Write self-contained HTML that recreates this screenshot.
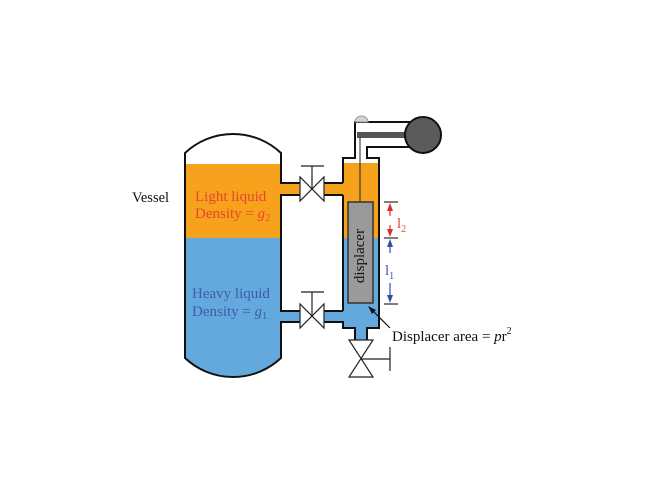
<!DOCTYPE html>
<html>
<head>
<meta charset="utf-8">
<style>
  html, body { margin:0; padding:0; background:#fff; }
  body { width:660px; height:495px; overflow:hidden; }
  svg { display:block; }
  text { font-family: "Liberation Serif", "Times New Roman", serif; }
</style>
</head>
<body>
<svg width="660" height="495" viewBox="0 0 660 495" xmlns="http://www.w3.org/2000/svg">
  <defs>
    <clipPath id="vclip">
      <path d="M185,153 A70,70 0 0 1 281,153 L281,358 A70,70 0 0 1 185,358 Z"/>
    </clipPath>
  </defs>

  <!-- Vessel fills -->
  <g clip-path="url(#vclip)">
    <rect x="180" y="120" width="110" height="44" fill="#ffffff"/>
    <rect x="180" y="164" width="110" height="74" fill="#F7A21C"/>
    <rect x="180" y="238" width="110" height="150" fill="#64A9DE"/>
  </g>

  <!-- Chamber fills -->
  <rect x="343" y="158" width="36" height="5" fill="#ffffff"/>
  <rect x="343" y="163" width="36" height="75" fill="#F7A21C"/>
  <rect x="343" y="238" width="36" height="90" fill="#64A9DE"/>
  <rect x="355" y="327" width="12" height="13" fill="#64A9DE"/>

  <!-- Pipe fills -->
  <rect x="280" y="184" width="64" height="11" fill="#F7A21C"/>
  <rect x="280" y="311" width="64" height="12" fill="#64A9DE"/>
  <rect x="300" y="180" width="24" height="18" fill="#ffffff"/>
  <rect x="300" y="307" width="24" height="18" fill="#ffffff"/>

  <!-- Vessel outline -->
  <path d="M281,183 L281,153 A70,70 0 0 0 185,153 L185,358 A70,70 0 0 0 281,358 L281,322" fill="none" stroke="#111" stroke-width="2"/>
  <path d="M281,195 L281,311" fill="none" stroke="#111" stroke-width="2"/>

  <!-- Upper pipe lines -->
  <path d="M280,183 L300,183 M324,183 L343,183 M280,195 L300,195 M324,195 L343,195" stroke="#111" stroke-width="2" fill="none"/>
  <!-- Lower pipe lines -->
  <path d="M280,311 L300,311 M324,311 L343,311 M280,322 L300,322" stroke="#111" stroke-width="2" fill="none"/>

  <!-- Chamber outline -->
  <path d="M343,183 L343,158 L355,158 L355,122 L410,122" stroke="#111" stroke-width="2" fill="none"/>
  <path d="M410,147 L367,147 L367,158 L379,158 L379,328 L367,328 L367,340" stroke="#111" stroke-width="2" fill="none"/>
  <path d="M343,195 L343,311" stroke="#111" stroke-width="2" fill="none"/>
  <path d="M324,322 L343,322 L343,328 L355,328 L355,340" stroke="#111" stroke-width="2" fill="none"/>

  <!-- Small cap on tube -->
  <path d="M355,122 A6.5,6 0 0 1 368,122 Z" fill="#d2d2d2" stroke="#999" stroke-width="1"/>

  <!-- Torque arm bar -->
  <rect x="357" y="132" width="52" height="6" fill="#555"/>

  <!-- Ball -->
  <circle cx="423" cy="135" r="18" fill="#5b5b5b" stroke="#111" stroke-width="2"/>

  <!-- Rod -->
  <line x1="360" y1="137" x2="360" y2="202" stroke="#222" stroke-width="1"/>

  <!-- Displacer -->
  <rect x="348" y="202" width="25" height="101" fill="#9a9a9a" stroke="#333" stroke-width="1.5"/>
  <text transform="translate(364,256) rotate(-90)" text-anchor="middle" font-size="15" fill="#111">displacer</text>

  <!-- Upper valve -->
  <path d="M300,177 L300,201 L324,177 L324,201 Z" fill="#fff" stroke="#222" stroke-width="1.2"/>
  <line x1="312" y1="189" x2="312" y2="166" stroke="#222" stroke-width="1.2"/>
  <line x1="301" y1="166" x2="324" y2="166" stroke="#222" stroke-width="1.2"/>

  <!-- Lower valve -->
  <path d="M300,304 L300,328 L324,304 L324,328 Z" fill="#fff" stroke="#222" stroke-width="1.2"/>
  <line x1="312" y1="316" x2="312" y2="292" stroke="#222" stroke-width="1.2"/>
  <line x1="301" y1="292" x2="324" y2="292" stroke="#222" stroke-width="1.2"/>

  <!-- Drain valve -->
  <path d="M349,340 L373,340 L349,377 L373,377 Z" fill="#fff" stroke="#222" stroke-width="1.2"/>
  <line x1="361" y1="359" x2="390" y2="359" stroke="#222" stroke-width="1.2"/>
  <line x1="390" y1="347" x2="390" y2="371" stroke="#222" stroke-width="1.2"/>

  <!-- Dimension ticks -->
  <path d="M384,202 L398,202 M384,238 L398,238 M384,304 L398,304" stroke="#333" stroke-width="1.2"/>

  <!-- Red arrows -->
  <line x1="390" y1="209" x2="390" y2="216" stroke="#E5262E" stroke-width="1.2"/>
  <path d="M390,203 L387,211 L393,211 Z" fill="#E5262E"/>
  <line x1="390" y1="225" x2="390" y2="231" stroke="#E5262E" stroke-width="1.2"/>
  <path d="M390,237 L387,229 L393,229 Z" fill="#E5262E"/>

  <!-- Blue arrows -->
  <line x1="390" y1="245" x2="390" y2="253" stroke="#3050A8" stroke-width="1.2"/>
  <path d="M390,239 L387,247 L393,247 Z" fill="#3050A8"/>
  <line x1="390" y1="283" x2="390" y2="297" stroke="#3050A8" stroke-width="1.2"/>
  <path d="M390,303 L387,295 L393,295 Z" fill="#3050A8"/>

  <!-- l labels -->
  <text x="397" y="228" font-size="15" fill="#E5453A">l<tspan font-size="10" dy="4">2</tspan></text>
  <text x="385" y="275" font-size="15" fill="#3D5BA9">l<tspan font-size="10" dy="4">1</tspan></text>

  <!-- Arrow to displacer -->
  <line x1="390" y1="328" x2="372" y2="310" stroke="#111" stroke-width="1.2"/>
  <path d="M368,306 L376,310 L372,314 Z" fill="#111"/>

  <!-- Texts -->
  <text x="132" y="202" font-size="14.5" fill="#111">Vessel</text>
  <text x="195" y="201" font-size="15" fill="#E8452E">Light liquid</text>
  <text x="195" y="218" font-size="15" fill="#E8452E">Density = <tspan font-style="italic">g</tspan><tspan font-size="10" dy="3">2</tspan></text>
  <text x="192" y="298" font-size="15" fill="#3D5BA9">Heavy liquid</text>
  <text x="192" y="316" font-size="15" fill="#3D5BA9">Density = <tspan font-style="italic">g</tspan><tspan font-size="10" dy="3">1</tspan></text>
  <text x="392" y="341" font-size="15" fill="#111">Displacer area = <tspan font-style="italic">p</tspan>r<tspan font-size="10" dy="-7">2</tspan></text>
</svg>
</body>
</html>
